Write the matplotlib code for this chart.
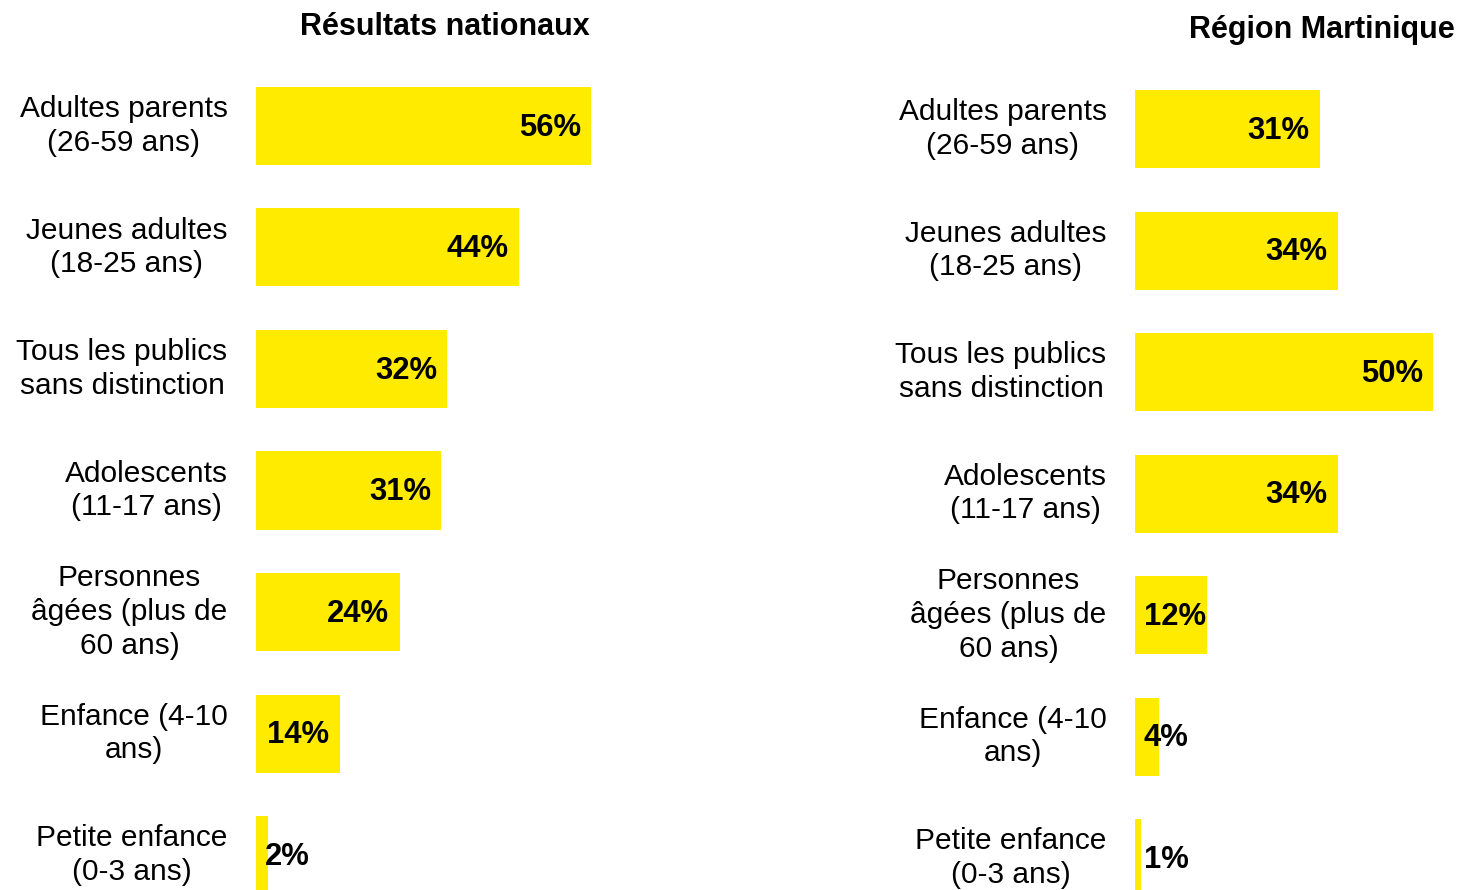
import matplotlib
matplotlib.use("Agg")
import matplotlib.pyplot as plt

plt.rcParams['font.family'] = ['Liberation Sans', 'DejaVu Sans']

# Data
categories = ["Adultes parents\n(26-59 ans)",
              "Jeunes adultes\n(18-25 ans)",
              "Tous les publics\nsans distinction",
              "Adolescents\n(11-17 ans)",
              "Personnes\nâgées (plus de\n60 ans)",
              "Enfance (4-10\nans)",
              "Petite enfance\n(0-3 ans)"]
national = [56, 44, 32, 31, 24, 14, 2]
martinique = [31, 34, 50, 34, 12, 4, 1]

bar_color = '#FEEB00'
W, H = 1459, 890

fig = plt.figure(figsize=(W / 100, H / 100), dpi=100)

# left panel: x from 256px, bars centred 126px..855px
ax1 = fig.add_axes([256 / W, 0, 359 / W, 825 / H])
ax1.set_xlim(0, 60)
ax1.set_ylim(6.288, -0.502)

# right panel: x from 1135px, bars centred 129px..858px
ax2 = fig.add_axes([1135 / W, 0, 328 / W, 825 / H])
ax2.set_xlim(0, 55)
ax2.set_ylim(6.263, -0.527)

for ax, values in [(ax1, national), (ax2, martinique)]:
    ypos = list(range(len(categories)))
    ax.barh(ypos, values, height=0.642, color=bar_color)
    for i, v in enumerate(values):
        if v >= 14:
            ax.text(v - 1.7, i + 0.016, f"{v}%", ha='right', va='center',
                    fontsize=22.3, fontweight='bold', color='black')
        else:
            ax.text(1.5, i + 0.016, f"{v}%", ha='left', va='center',
                    fontsize=22.3, fontweight='bold', color='black')
        ax.annotate(categories[i], xy=(0, i), xycoords=('axes fraction', 'data'),
                    xytext=(-20.5, 0), textcoords='offset points',
                    ha='right', va='center', multialignment='center',
                    fontsize=21.5, linespacing=1.26, color='black')
    ax.axis('off')

fig.text(445 / W, 1 - 27 / H, "Résultats nationaux", ha='center', va='center',
         fontsize=22, fontweight='bold')
fig.text(1455 / W, 1 - 30 / H, "Région Martinique", ha='right', va='center',
         fontsize=22, fontweight='bold')

fig.savefig("out.png", dpi=100)
